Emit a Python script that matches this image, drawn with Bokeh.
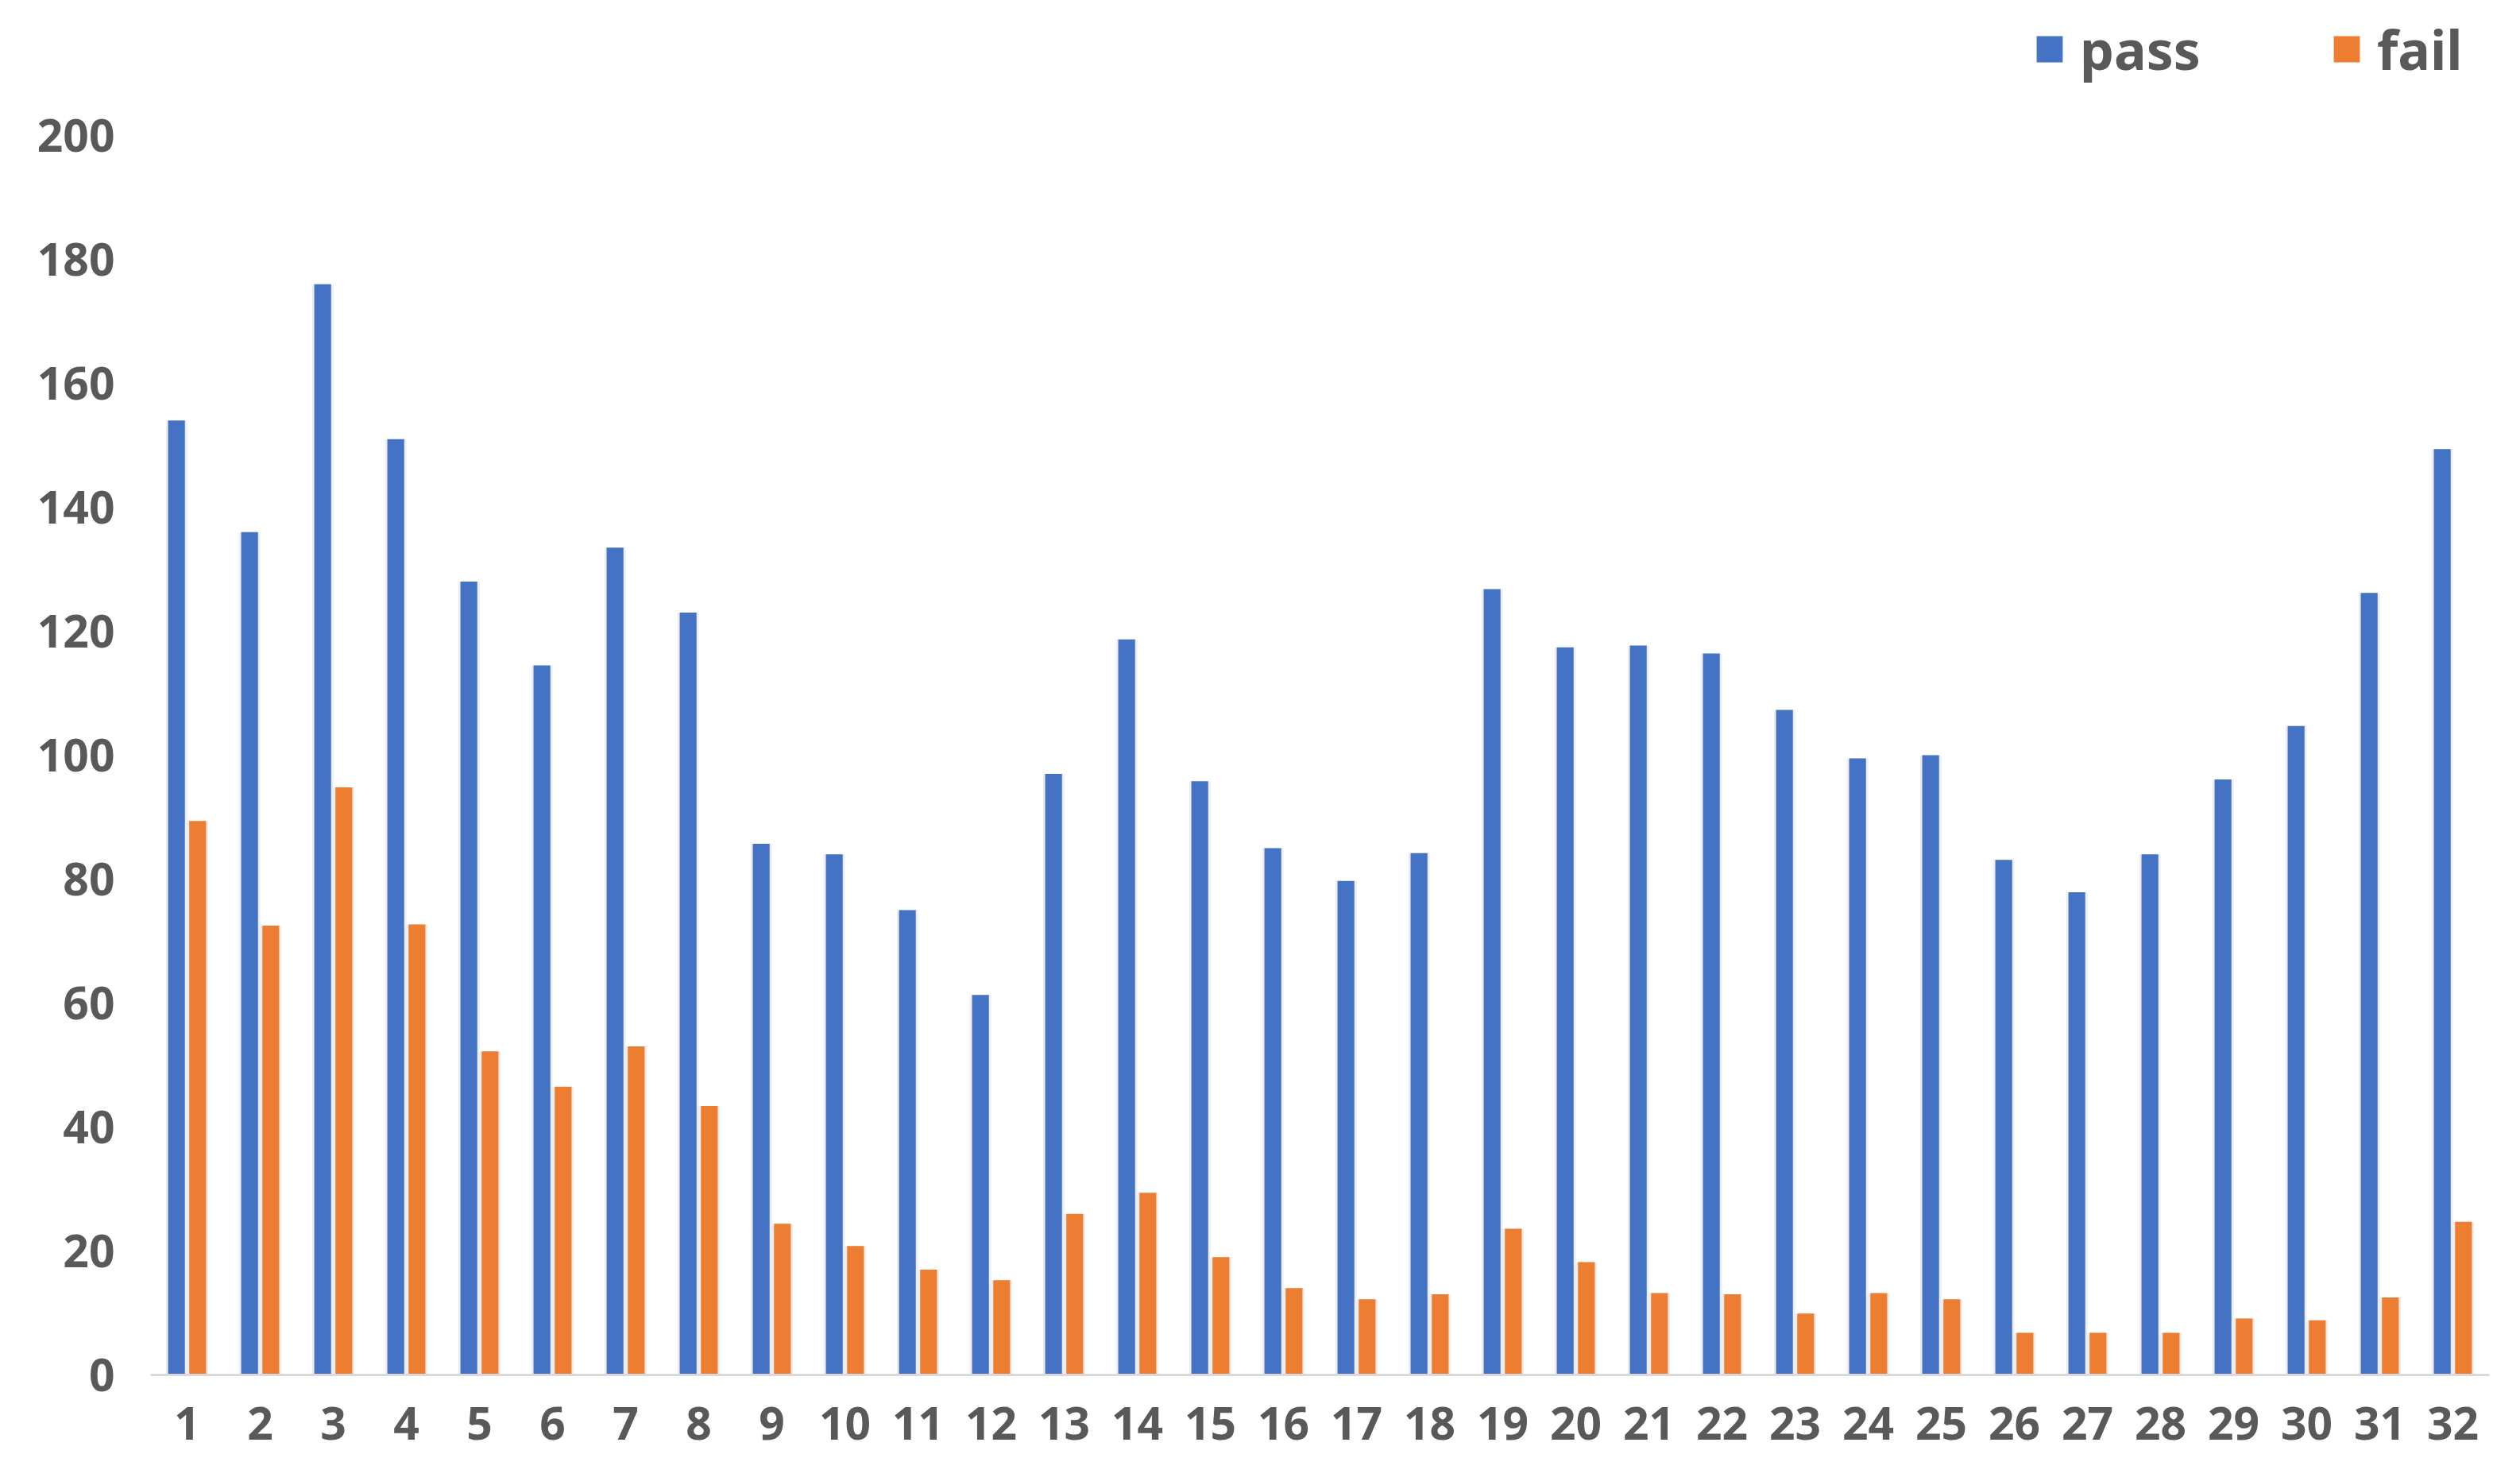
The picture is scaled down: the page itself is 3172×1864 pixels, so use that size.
from bokeh.plotting import figure
from bokeh.models import ColumnDataSource, FactorRange, Range1d, FixedTicker, Legend, LegendItem
from bokeh.transform import dodge
from bokeh.embed import file_html
from bokeh.resources import INLINE

categories = [str(i) for i in range(1, 33)]
pass_values = [154, 136, 176, 151, 128, 114.5, 133.5, 123, 85.7, 84, 75, 61.3,
               97, 118.7, 95.8, 85, 79.7, 84.2, 126.8, 117.4, 117.7, 116.4, 107.3, 99.5,
               100, 83.1, 77.9, 84, 96.1, 104.7, 126.2, 149.4]
fail_values = [89.4, 72.5, 94.8, 72.7, 52.2, 46.5, 53, 43.4, 24.4, 20.8, 17, 15.3,
               26, 29.4, 19, 14, 12.2, 13, 23.6, 18.2, 13.2, 13, 9.9, 13.2,
               12.2, 6.8, 6.8, 6.8, 9.1, 8.8, 12.5, 24.7]
y_ticks = [0, 20, 40, 60, 80, 100, 120, 140, 160, 180, 200]

source = ColumnDataSource(data=dict(cat=categories, passv=pass_values, failv=fail_values))

W, H = 3156, 1848
BOTTOM = 118
FRAME_H = H - BOTTOM          # frame spans whole top so the legend is not clipped
AXIS_H = 1560                 # pixels from 0 to 200
y_end = 200 * FRAME_H / AXIS_H

p = figure(x_range=FactorRange(*categories, range_padding=0), y_range=Range1d(0, y_end),
           width=W, height=H, output_backend="svg", toolbar_location=None,
           min_border_left=189, min_border_right=23, min_border_top=0, min_border_bottom=BOTTOM)
p.outline_line_color = None
p.background_fill_color = "white"
p.border_fill_color = "white"
p.xgrid.grid_line_color = None
p.ygrid.grid_line_color = None

BLUE = "#4472C4"
ORANGE = "#ED7D31"
bw = 0.23
off = 0.145

# faint shadows
p.vbar(x=dodge("cat", -off, range=p.x_range), top="passv", width=bw + 0.06, source=source,
       fill_color="#000000", fill_alpha=0.07, line_color=None)
p.vbar(x=dodge("cat", off, range=p.x_range), top="failv", width=bw + 0.06, source=source,
       fill_color="#000000", fill_alpha=0.07, line_color=None)

r1 = p.vbar(x=dodge("cat", -off, range=p.x_range), top="passv", width=bw, source=source,
            fill_color=BLUE, line_color=None)
r2 = p.vbar(x=dodge("cat", off, range=p.x_range), top="failv", width=bw, source=source,
            fill_color=ORANGE, line_color=None)

FONT = "Noto Sans"
GREY = "#595959"

p.yaxis.ticker = FixedTicker(ticks=y_ticks)
p.yaxis.axis_line_color = None
p.yaxis.major_tick_line_color = None
p.yaxis.minor_tick_line_color = None
p.yaxis.major_tick_out = 0
p.yaxis.major_tick_in = 0
p.yaxis.major_label_standoff = 45
p.yaxis.major_label_text_font = FONT
p.yaxis.major_label_text_font_style = "bold"
p.yaxis.major_label_text_font_size = "57px"
p.yaxis.major_label_text_color = GREY

p.xaxis.axis_line_color = "#d9d9d9"
p.xaxis.axis_line_width = 3
p.xaxis.major_tick_line_color = None
p.xaxis.minor_tick_line_color = None
p.xaxis.major_tick_out = 0
p.xaxis.major_tick_in = 0
p.xaxis.major_label_standoff = 40
p.xaxis.major_label_text_font = FONT
p.xaxis.major_label_text_font_style = "bold"
p.xaxis.major_label_text_font_size = "57px"
p.xaxis.major_label_text_color = GREY

legend = Legend(items=[LegendItem(label="pass", renderers=[r1]),
                       LegendItem(label="fail", renderers=[r2])],
                location=(2370, 1622), orientation="horizontal",
                glyph_width=41, glyph_height=41, label_standoff=18, spacing=163,
                padding=0, margin=0, border_line_color=None, background_fill_alpha=0,
                label_text_font=FONT, label_text_font_style="bold",
                label_text_font_size="68px", label_text_color=GREY)
p.add_layout(legend, "center")

open("out.html", "w").write(file_html(p, INLINE))
